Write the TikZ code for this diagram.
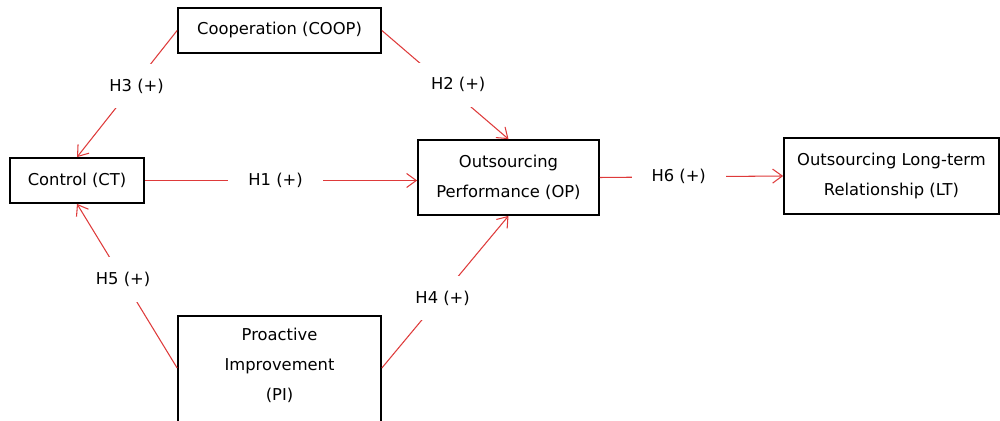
\documentclass[tikz,border=0pt]{standalone}
\usepackage{fontspec}
\setmainfont{DejaVu Sans}
\usetikzlibrary{arrows.meta,calc}
\definecolor{hypred}{RGB}{222,58,58}

\begin{document}
\begin{tikzpicture}[x=0.02cm,y=-0.02cm,font=\fontsize{9.3}{17}\selectfont,
  >={Straight Barb[length=5.5pt,width=8pt]},
  box/.style={draw,line width=1pt,align=center,inner sep=2pt},
  hyp/.style={draw=hypred,line width=0.6pt,->},
  lbl/.style={fill=white,inner xsep=0.4cm,inner ysep=0.3cm}]
  \useasboundingbox (0,0) rectangle (1000,421);
  \node[box,minimum width=4.06cm,minimum height=0.9cm] (coop) at (279.5,30.5) {Cooperation (COOP)};
  \node[box,minimum width=2.68cm,minimum height=0.9cm] (ct)   at (77,180.5)   {Control (CT)};
  \node[box,minimum width=3.62cm,minimum height=1.5cm] (op)   at (508.5,177.5)
        {Outsourcing\\Performance (OP)};
  \node[box,minimum width=4.3cm,minimum height=1.52cm] (lt)  at (891.5,176)
        {Outsourcing Long-term\\Relationship (LT)};
  % box runs off the bottom edge
  \node[box,anchor=north,minimum width=4.06cm,minimum height=2.7cm] (pi) at (279.5,315)
        {Proactive\\Improvement\\(PI)\\\strut};
  \coordinate (piw) at ($(pi.north west)+(0,53)$);
  \coordinate (pie) at ($(pi.north east)+(0,53)$);
  \draw[hyp] (coop.west) -- node[lbl,pos=0.44,xshift=0.07cm]{H3 (+)} (ct.north);
  \draw[hyp] (coop.east) -- node[lbl,pos=0.5,xshift=0.26cm]{H2 (+)} (op.north);
  \draw[hyp] (ct.east) -- node[lbl,pos=0.48]{H1 (+)} (ct.east -| op.west);
  \draw[hyp] (op.east) -- node[lbl,pos=0.43]{H6 (+)} (lt.west);
  \draw[hyp] (piw) -- node[lbl,pos=0.54]{H5 (+)} (ct.south);
  \draw[hyp] (pie) -- node[lbl,pos=0.46,xshift=0.05cm]{H4 (+)} (op.south);
\end{tikzpicture}
\end{document}
